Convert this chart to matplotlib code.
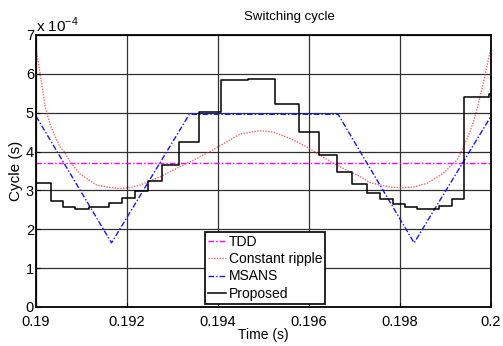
import numpy as np
import matplotlib
matplotlib.use('Agg')
import matplotlib.pyplot as plt

plt.rcParams['font.family'] = ['Liberation Sans', 'DejaVu Sans']
plt.rcParams['mathtext.fontset'] = 'custom'
plt.rcParams['mathtext.rm'] = 'Liberation Sans'

# switching cycle values in units of 1e-4 s
tdd_level = 3.70

ripple_t = [0.19000, 0.19009, 0.19020, 0.19031, 0.19042, 0.19053, 0.19062, 0.19077,
            0.19097, 0.19133, 0.19160, 0.19185, 0.19210, 0.19229, 0.19273, 0.19316,
            0.19346, 0.19382, 0.19419, 0.19448, 0.19492, 0.19521, 0.19558, 0.19595,
            0.19617, 0.19653, 0.19690, 0.19712, 0.19734, 0.19760, 0.19785, 0.19804,
            0.19830, 0.19859, 0.19895, 0.19925, 0.19939, 0.19955, 0.19969, 0.19983,
            0.20000]
ripple_v = [6.68, 6.00, 5.15, 4.70, 4.38, 4.12, 4.00, 3.70,
            3.42, 3.14, 3.08, 3.05, 3.08, 3.14, 3.35, 3.61,
            3.78, 4.00, 4.25, 4.45, 4.54, 4.50, 4.34, 4.12,
            3.96, 3.70, 3.48, 3.36, 3.20, 3.13, 3.08, 3.07,
            3.09, 3.18, 3.44, 3.78, 4.10, 4.55, 5.07, 5.76,
            6.68]

msans_t = [0.19, 0.19166, 0.19337, 0.19664, 0.19831, 0.20]
msans_v = [4.91, 1.65, 4.96, 4.96, 1.65, 4.91]

prop_t = [0.19, 0.19032, 0.19059, 0.19085, 0.19117, 0.19161, 0.19188, 0.19217,
          0.19246, 0.19278, 0.19315, 0.19359, 0.19407, 0.19467, 0.19525, 0.19577,
          0.19623, 0.19662, 0.19695, 0.19727, 0.19757, 0.19785, 0.19811, 0.19838,
          0.19886, 0.19914, 0.19941, 0.19996, 0.20]
prop_v = [3.18, 2.74, 2.58, 2.52, 2.57, 2.67, 2.80, 2.99,
          3.25, 3.66, 4.25, 5.02, 5.84, 5.87, 5.22, 4.50,
          3.91, 3.47, 3.17, 2.94, 2.77, 2.64, 2.57, 2.52,
          2.60, 2.79, 5.41, 5.48, 5.48]

xticks = [0.19, 0.192, 0.194, 0.196, 0.198, 0.2]
xticklabels = ['0.19', '0.192', '0.194', '0.196', '0.198', '0.2']
yticks = [0, 1, 2, 3, 4, 5, 6, 7]

fig = plt.figure(figsize=(5.03, 3.46), dpi=100)
ax = fig.add_axes([36/503, 39/346, 455/503, 272/346])

ax.plot([0.19, 0.2], [tdd_level, tdd_level], color='#ff00ff', lw=1.0,
        ls=(0, (4, 1.5, 1, 1.5)), label='TDD')
ax.plot(ripple_t, ripple_v, color='#ff3030', lw=1.0, ls=(0, (1, 1)),
        alpha=0.75, label='Constant ripple')
ax.plot(msans_t, msans_v, color='#1515ff', lw=1.0, ls=(0, (4, 1.5, 1, 1.5)),
        label='MSANS')
ax.step(prop_t, prop_v, where='post', color='black', lw=1.1, label='Proposed')

ax.set_xlim(0.19, 0.2)
ax.set_ylim(0, 7)
ax.set_xticks(xticks)
ax.set_xticklabels(xticklabels)
ax.set_yticks(yticks)
ax.tick_params(direction='in', labelsize=10.5, length=3)
ax.tick_params(axis='y', pad=1.5)
ax.tick_params(axis='x', pad=6)
ax.grid(True, color='#303030', lw=0.9, ls='-')
for s in ax.spines.values():
    s.set_linewidth(1.3)

ax.set_title('Switching cycle', fontsize=9.5, pad=11, x=0.558)
ax.set_xlabel('Time (s)', fontsize=10, labelpad=-1)
ax.set_ylabel('Cycle (s)', fontsize=11, labelpad=2)
ax.text(0.0, 1.0, r'x 10$^{-4}$', transform=ax.transAxes, fontsize=11,
        ha='left', va='bottom')

leg = ax.legend(loc='lower left', bbox_to_anchor=(0.372, 0.012), fontsize=10,
                frameon=True, fancybox=False, framealpha=1, edgecolor='black',
                handlelength=1.3, handletextpad=0.2, borderpad=0.2,
                labelspacing=0.25, borderaxespad=0)
leg.get_frame().set_linewidth(1.2)

fig.savefig('out.png', dpi=100)
